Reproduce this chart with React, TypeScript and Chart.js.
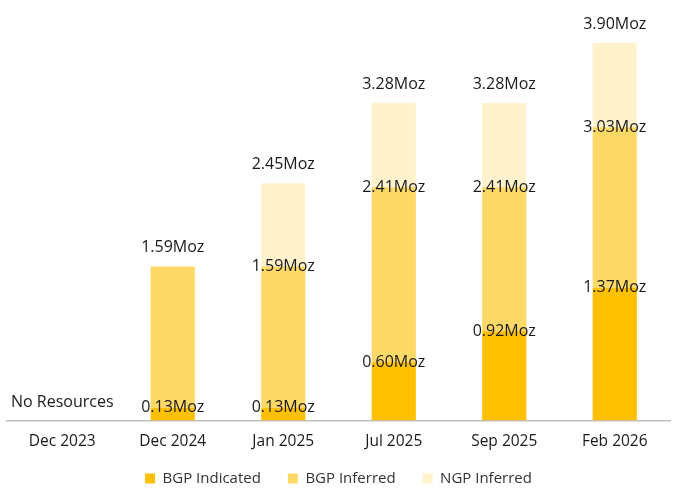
import React, { useEffect, useRef } from "react";
import { Chart, registerables } from "chart.js";

Chart.register(...registerables);

const categories = ["Dec 2023", "Dec 2024", "Jan 2025", "Jul 2025", "Sep 2025", "Feb 2026"];
const bgpIndicated = [0, 0.13, 0.13, 0.6, 0.92, 1.37];
const bgpInferred = [0, 1.46, 1.46, 1.81, 1.49, 1.66];
const ngpInferred = [0, 0, 0.86, 0.87, 0.87, 0.87];
const emptyLabel = "No Resources";
const unit = "Moz";

const FONT = "'Open Sans', 'Noto Sans', sans-serif";

const labelPlugin = {
  id: "stackLabels",
  afterLayout(chart: any) {
    if (chart.legend) {
      chart.legend.top -= 11;
      chart.legend.bottom -= 11;
    }
  },
  afterDatasetsDraw(chart: any) {
    const ctx = chart.ctx;
    const yScale = chart.scales.y;
    const xScale = chart.scales.x;
    ctx.save();
    ctx.font = `16px ${FONT}`;
    ctx.fillStyle = "#1a1a1a";
    ctx.textAlign = "center";
    ctx.textBaseline = "middle";
    const n = chart.data.labels.length;
    for (let j = 0; j < n; j++) {
      const vals = chart.data.datasets.map((d: any) => d.data[j] as number);
      const x = xScale.getPixelForValue(j);
      let lastNonZero = -1;
      vals.forEach((v: number, i: number) => { if (v > 0) lastNonZero = i; });
      if (lastNonZero < 0) {
        ctx.fillText(emptyLabel, x, yScale.getPixelForValue(0) - 18);
        continue;
      }
      let cum = 0;
      for (let i = 0; i < vals.length; i++) {
        if (vals[i] <= 0) continue;
        cum += vals[i];
        const y = yScale.getPixelForValue(cum);
        const txt = cum.toFixed(2) + unit;
        if (i === lastNonZero) ctx.fillText(txt, x, y - 19);
        else ctx.fillText(txt, x, y);
      }
    }
    ctx.restore();
  },
};

export default function App() {
  const ref = useRef<HTMLCanvasElement>(null);
  useEffect(() => {
    document.body.style.margin = "0";
    const chart = new Chart(ref.current!, {
      type: "bar",
      data: {
        labels: categories,
        datasets: [
          { label: "BGP Indicated", data: bgpIndicated, backgroundColor: "#FFC000" },
          { label: "BGP Inferred", data: bgpInferred, backgroundColor: "#FFD966" },
          { label: "NGP Inferred", data: ngpInferred, backgroundColor: "#FFF2CC" },
        ],
      },
      options: {
        animation: false,
        responsive: true,
        maintainAspectRatio: false,
        layout: { padding: { top: 43, left: 7, right: 14, bottom: -8 } },
        datasets: { bar: { barPercentage: 0.8, categoryPercentage: 0.5 } } as any,
        scales: {
          x: {
            stacked: true,
            grid: { display: false },
            border: { color: "#BFBFBF", width: 1.5 },
            ticks: { color: "#1a1a1a", font: { family: FONT, size: 15.5 }, padding: 4 },
          },
          y: { stacked: true, display: false, min: 0, max: 3.9 },
        },
        plugins: {
          legend: {
            position: "bottom",
            labels: {
              boxWidth: 10,
              boxHeight: 10,
              color: "#333333",
              padding: 27,
              font: { family: FONT, size: 15 },
            },
          },
          tooltip: { enabled: false },
        },
      },
      plugins: [labelPlugin],
    });
    return () => chart.destroy();
  }, []);
  return (
    <div style={{ position: "absolute", left: 0, top: 0, width: 684, height: 499 }}>
      <canvas ref={ref} />
    </div>
  );
}
